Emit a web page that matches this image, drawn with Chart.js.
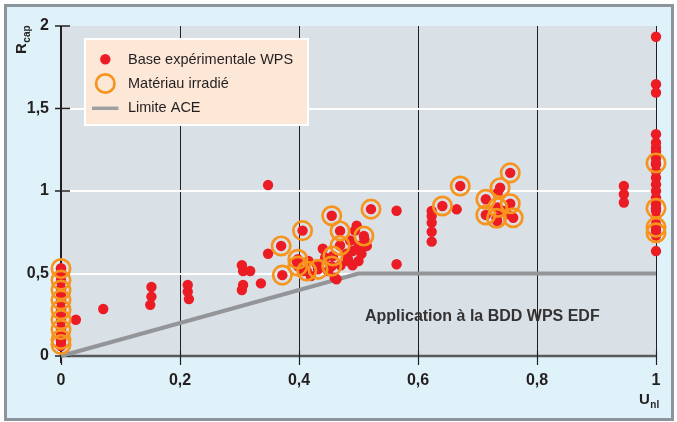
<!DOCTYPE html>
<html>
<head>
<meta charset="utf-8">
<script src="https://cdn.jsdelivr.net/npm/chart.js@4/dist/chart.umd.min.js"></script>
<style>
html,body{margin:0;padding:0;background:#ffffff;}
#wrap{width:677px;height:422px;position:relative;}
</style>
</head>
<body>
<div id="wrap"><canvas id="c" width="677" height="422"></canvas></div>
<script>
// ---- data ----
const xTickLabels = ['0', '0,2', '0,4', '0,6', '0,8', '1'];
const yTickLabels = ['0', '0,5', '1', '1,5', '2'];
const seriesLabels = ['Base expérimentale WPS', 'Matériau irradié', 'Limite ACE'];
const annotationText = 'Application à la BDD WPS EDF';

// red dots (base expérimentale WPS), [Unl, Rcap]
const wpsPoints = [
  [0,0.53],[0,0.49],[0,0.45],[0,0.41],[0,0.37],[0,0.33],[0,0.29],[0,0.25],[0,0.21],[0,0.17],[0,0.13],[0,0.09],[0,0.06],
  [0.025,0.22],[0.071,0.285],
  [0.152,0.418],[0.152,0.36],[0.150,0.31],
  [0.213,0.43],[0.213,0.39],[0.215,0.345],
  [0.304,0.55],[0.306,0.515],[0.318,0.515],[0.306,0.43],[0.304,0.40],[0.336,0.44],
  [0.348,0.62],[0.348,1.036],
  [0.396,0.576],[0.407,0.515],[0.416,0.576],[0.42,0.485],[0.43,0.556],[0.44,0.65],[0.444,0.596],[0.449,0.515],
  [0.46,0.475],[0.463,0.465],[0.47,0.55],[0.48,0.62],[0.482,0.59],[0.483,0.576],[0.486,0.70],[0.49,0.636],
  [0.49,0.55],[0.494,0.76],[0.497,0.79],[0.50,0.667],[0.50,0.576],[0.505,0.62],[0.51,0.707],[0.514,0.667],
  [0.564,0.88],[0.564,0.556],
  [0.623,0.879],[0.623,0.848],[0.623,0.808],[0.623,0.753],[0.623,0.693],[0.665,0.889],
  [0.734,0.99],[0.742,0.88],[0.733,0.818],[0.75,0.86],
  [0.946,1.03],[0.946,0.98],[0.946,0.93],
  [1,1.935],[1,1.647],[1,1.596],[1,1.344],[1,1.293],[1,1.262],[1,1.24],[1,1.2],[1,1.16],[1,1.12],
  [1,1.08],[1,1.04],[1,1.0],[1,0.96],[1,0.92],[1,0.88],[1,0.84],[1,0.80],[1,0.76],[1,0.73],[1,0.636]
];

// irradiated material (orange rings, each with a red dot)
const irrPoints = [
  [0,0.53],[0,0.46],[0,0.40],[0,0.34],[0,0.28],[0,0.22],[0,0.16],[0,0.10],[0,0.07],
  [0.37,0.667],[0.372,0.49],[0.398,0.586],[0.398,0.545],[0.406,0.76],[0.413,0.515],[0.432,0.525],
  [0.455,0.85],[0.455,0.545],[0.457,0.606],[0.469,0.758],[0.469,0.67],[0.509,0.727],[0.521,0.89],
  [0.641,0.909],[0.671,1.03],[0.714,0.95],[0.714,0.855],[0.732,0.835],[0.734,0.90],[0.738,1.02],
  [0.755,1.11],[0.755,0.923],[0.76,0.838],
  [1,1.17],[1,0.895],[1,0.78],[1,0.747]
];

// Limite ACE
const aceX = [0, 0.5, 1];
const aceY = [0, 0.5, 0.5];

// ---- style ----
const RED = '#ec1c24', ORANGE = '#f7941d', GREY = '#939598';
const FONT = '"Liberation Sans", Arial, Helvetica, sans-serif';
const TXT = '#231f20';

const toXY = a => a.map(p => ({x: p[0], y: p[1]}));

const framePlugin = {
  id: 'frame',
  beforeDraw(chart) {
    const ctx = chart.ctx, a = chart.chartArea;
    ctx.save();
    ctx.fillStyle = '#ffffff';
    ctx.fillRect(0, 0, chart.width, chart.height);
    ctx.fillStyle = '#dff2f9';
    ctx.fillRect(5, 5, 668, 415);
    ctx.strokeStyle = '#8b959b';
    ctx.lineWidth = 3;
    ctx.strokeRect(5.5, 5.5, 667, 414);
    ctx.fillStyle = '#d9e0e6';
    ctx.fillRect(a.left, a.top, a.right - a.left, a.bottom - a.top);
    ctx.restore();
  },
  beforeDatasetsDraw(chart) {
    const ctx = chart.ctx, a = chart.chartArea;
    const xs = chart.scales.x, ys = chart.scales.y;
    ctx.save();
    // x axis line
    ctx.strokeStyle = '#58595b';
    ctx.lineWidth = 2.5;
    ctx.beginPath();
    ctx.moveTo(a.left, a.bottom);
    ctx.lineTo(a.right, a.bottom);
    ctx.stroke();
    // x ticks
    ctx.strokeStyle = '#231f20';
    ctx.lineWidth = 1.2;
    xs.ticks.forEach(t => {
      const px = Math.round(xs.getPixelForValue(t.value)) + 0.5;
      ctx.beginPath();
      ctx.moveTo(px, a.bottom - 5);
      ctx.lineTo(px, a.bottom + 9);
      ctx.stroke();
    });
    // y axis line
    ctx.lineWidth = 2;
    ctx.beginPath();
    ctx.moveTo(a.left, a.top);
    ctx.lineTo(a.left, a.bottom + 7);
    ctx.stroke();
    // y ticks
    ctx.lineWidth = 1.5;
    ys.ticks.forEach(t => {
      const py = ys.getPixelForValue(t.value);
      ctx.beginPath();
      ctx.moveTo(a.left - 6, py);
      ctx.lineTo(a.left + 9, py);
      ctx.stroke();
    });
    ctx.restore();
  },
  afterDraw(chart) {
    const ctx = chart.ctx, a = chart.chartArea;
    ctx.save();
    // axis titles
    ctx.fillStyle = TXT;
    ctx.textBaseline = 'alphabetic';
    ctx.textAlign = 'left';
    ctx.save();
    ctx.translate(26, 54);
    ctx.rotate(-Math.PI / 2);
    ctx.font = 'bold 15px ' + FONT;
    ctx.fillText('R', 0, 0);
    const rw = ctx.measureText('R').width;
    ctx.font = 'bold 10px ' + FONT;
    ctx.fillText('cap', rw + 0.5, 4);
    ctx.restore();
    ctx.font = 'bold 15px ' + FONT;
    ctx.fillText('U', 639, 404);
    const uw = ctx.measureText('U').width;
    ctx.font = 'bold 10px ' + FONT;
    ctx.fillText('nl', 639 + uw + 0.5, 408);

    // annotation
    ctx.font = 'bold 16px ' + FONT;
    ctx.fillStyle = '#333333';
    ctx.fillText(annotationText, 365, 321);

    // legend
    const lx = 85, ly = 39, lw = 223, lh = 86;
    ctx.fillStyle = '#fde8d8';
    ctx.fillRect(lx, ly, lw, lh);
    ctx.strokeStyle = '#ffffff';
    ctx.lineWidth = 2;
    ctx.strokeRect(lx, ly, lw, lh);
    // symbols
    ctx.fillStyle = RED;
    ctx.beginPath(); ctx.arc(105.3, 59.3, 5.2, 0, Math.PI * 2); ctx.fill();
    ctx.strokeStyle = ORANGE; ctx.lineWidth = 2.7;
    ctx.beginPath(); ctx.arc(105.3, 83.5, 9.2, 0, Math.PI * 2); ctx.stroke();
    ctx.strokeStyle = '#9d9fa2'; ctx.lineWidth = 3.5;
    ctx.beginPath(); ctx.moveTo(92, 108.3); ctx.lineTo(118.5, 108.3); ctx.stroke();
    // text
    ctx.fillStyle = TXT;
    ctx.font = '14.5px ' + FONT;
    ctx.fillText(seriesLabels[0], 128, 64);
    ctx.fillText(seriesLabels[1], 128, 87.5);
    ctx.fillText(seriesLabels[2], 128, 111.5);
    ctx.restore();
  }
};

new Chart(document.getElementById('c'), {
  type: 'scatter',
  data: {
    datasets: [
      {
        type: 'line',
        label: seriesLabels[2],
        data: aceX.map((x, i) => ({x, y: aceY[i]})),
        borderColor: GREY,
        borderWidth: 4,
        pointRadius: 0,
        fill: false,
        tension: 0,
        order: 3,
        clip: false
      },
      {
        label: seriesLabels[0],
        data: toXY(wpsPoints.concat(irrPoints)),
        backgroundColor: RED,
        borderWidth: 0,
        pointRadius: 5.2,
        pointHoverRadius: 5.2,
        order: 2,
        clip: false
      },
      {
        label: seriesLabels[1],
        data: toXY(irrPoints),
        backgroundColor: 'rgba(0,0,0,0)',
        borderColor: ORANGE,
        borderWidth: 2.7,
        pointRadius: 9.2,
        pointHoverRadius: 9.2,
        order: 1,
        clip: false
      }
    ]
  },
  options: {
    responsive: false,
    animation: false,
    devicePixelRatio: 1,
    events: [],
    layout: { padding: { left: 0, right: 21, top: 26, bottom: 0 } },
    plugins: { legend: { display: false }, tooltip: { enabled: false } },
    scales: {
      x: {
        type: 'linear',
        min: 0, max: 1,
        afterFit(s) { s.height = 66; },
        ticks: {
          stepSize: 0.2,
          padding: 15,
          color: TXT,
          font: { family: FONT, size: 16, weight: 'bold' },
          maxRotation: 0,
          callback: (v, i) => xTickLabels[i]
        },
        grid: {
          drawTicks: false,
          lineWidth: 1,
          color: c => (c.tick && c.tick.value > 0.01) ? '#231f20' : 'rgba(0,0,0,0)'
        },
        border: { display: false }
      },
      y: {
        type: 'linear',
        min: 0, max: 2,
        afterFit(s) { s.width = 61; },
        ticks: {
          stepSize: 0.5,
          padding: 12,
          color: TXT,
          font: { family: FONT, size: 16, weight: 'bold' },
          callback: (v, i) => yTickLabels[i]
        },
        grid: {
          drawTicks: false,
          lineWidth: 2,
          color: c => (c.tick && c.tick.value > 0.01 && c.tick.value < 1.99) ? '#ffffff' : 'rgba(0,0,0,0)'
        },
        border: { display: false }
      }
    }
  },
  plugins: [framePlugin]
});
</script>
</body>
</html>
